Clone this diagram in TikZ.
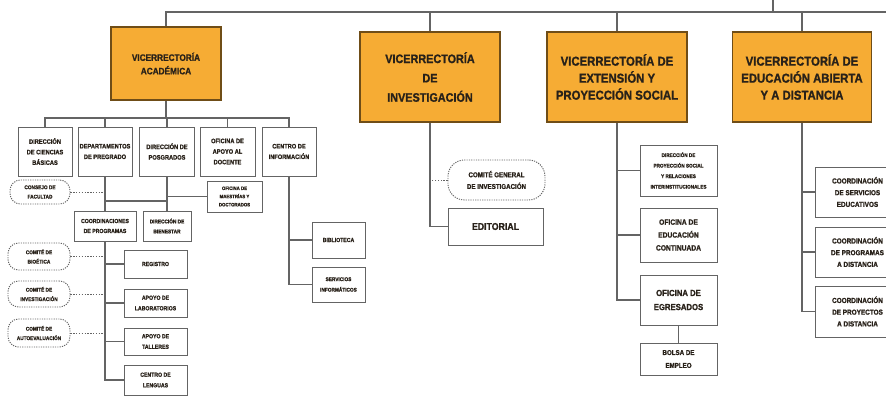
\documentclass[tikz,border=0pt]{standalone}
\usepackage{fontspec}
\setmainfont{Liberation Sans}[FakeStretch=0.88, BoldFeatures={FakeBold=1.2}]
\usepackage{tikz}
\usepackage{xcolor}
\usetikzlibrary{positioning}

\definecolor{naranja}{RGB}{246,172,52}
\definecolor{borde}{RGB}{100,100,100}
\definecolor{texto}{RGB}{40,33,25}
\tikzset{
  tam/.style 2 args={minimum width=#1*0.03cm, minimum height=#2*0.03cm},
  vice/.style={draw=naranja!45!black, line width=0.9pt, fill=naranja, text=texto,
    font=\bfseries\fontsize{11}{14.5}\selectfont, align=center, inner sep=0pt},
  unidad/.style={draw=borde, line width=0.8pt, fill=white, text=texto,
    font=\bfseries\fontsize{5.5}{9}\selectfont, align=center, inner sep=0pt},
  comite/.style={unidad, dash pattern=on 1pt off 1pt, rounded corners=9pt,
    font=\bfseries\fontsize{4.6}{8}\selectfont},
  linea/.style={draw=borde, line width=1pt},
  punteada/.style={draw=borde, line width=0.6pt, dash pattern=on 1.2pt off 1.2pt},
}

\begin{document}
\begin{tikzpicture}[x=0.03cm,y=-0.03cm]
\useasboundingbox (0,0) rectangle (886,398);
\clip (0,0) rectangle (886,398);

% vicerrectorias
\node[vice, tam={110}{73}, font=\bfseries\fontsize{8}{11.5}\selectfont] (va) at (166,63.5) {VICERRECTORÍA\\ACADÉMICA};
\node[vice, tam={140}{90}, font=\bfseries\fontsize{10.5}{16.5}\selectfont] (vi) at (430,77) {VICERRECTORÍA\\DE\\INVESTIGACIÓN};
\node[vice, tam={140}{90}] (ve) at (617,77) {VICERRECTORÍA DE\\EXTENSIÓN Y\\PROYECCIÓN SOCIAL};
\node[vice, tam={139}{90}] (vd) at (802,77) {VICERRECTORÍA DE\\EDUCACIÓN ABIERTA\\Y A DISTANCIA};
\coordinate (rector) at (773,0);
\coordinate (barra) at (773,12);
\coordinate (fin) at (886,12);
\draw[linea] (rector) -- (barra);
\draw[linea] (va.north) -- (va.north |- barra) -- (fin);
\foreach \v in {vi,ve,vd} \draw[linea] (\v.north) -- (\v.north |- barra);

% academica
\node[unidad, tam={54}{49}] (dcb) at (45,151.5) {DIRECCIÓN\\DE CIENCIAS\\BÁSICAS};
\node[unidad, tam={54}{49}] (dpre) at (105,151.5) {DEPARTAMENTOS\\DE PREGRADO};
\node[unidad, tam={55}{49}] (dpos) at (167,151.5) {DIRECCIÓN DE\\POSGRADOS};
\node[unidad, tam={55}{49}] (oad) at (227.5,151.5) {OFICINA DE\\APOYO AL\\DOCENTE};
\node[unidad, tam={54}{49}] (cinf) at (289,151.5) {CENTRO DE\\INFORMACIÓN};
\coordinate (ramaA) at (166,118);
\draw[linea] (va.south) -- (ramaA);
\draw[linea] (dcb.north) -- (dcb.north |- ramaA) -- (cinf.north |- ramaA) -- (cinf.north);
\foreach \u in {dpre,dpos,oad} \draw[linea] (\u.north) -- (\u.north |- ramaA);

\node[comite, tam={60}{24}] (cfac) at (40,192) {CONSEJO DE\\FACULTAD};
\draw[punteada] (cfac.east) -- (cfac.east -| dpre.south);

\node[unidad, tam={62}{30}, font=\bfseries\fontsize{5}{8.5}\selectfont] (cprog) at (105,226) {COORDINACIONES\\DE PROGRAMAS};
\node[unidad, tam={48}{30}, font=\bfseries\fontsize{4.6}{8.5}\selectfont] (dbien) at (167,226) {DIRECCIÓN DE\\BIENESTAR};
\node[unidad, tam={55}{31}, font=\bfseries\fontsize{4.2}{7}\selectfont] (omd) at (234.5,196.5) {OFICINA DE\\MAESTRÍAS Y\\DOCTORADOS};
\coordinate (ramaB) at (105,201);
\draw[linea] (dpre.south) -- (cprog.north);
\draw[linea] (dpos.south) -- (dbien.north);
\draw[linea] (ramaB) -- (ramaB -| dpos.south);
\draw[linea] (omd.west) -- (omd.west -| dpos.south);

\node[unidad, tam={63}{28}, font=\bfseries\fontsize{5}{9}\selectfont] (reg) at (155.5,264) {REGISTRO};
\node[unidad, tam={63}{28}, font=\bfseries\fontsize{5}{9}\selectfont] (alab) at (155.5,303) {APOYO DE\\LABORATORIOS};
\node[unidad, tam={63}{27}, font=\bfseries\fontsize{5}{9}\selectfont] (atal) at (155.5,341.5) {APOYO DE\\TALLERES};
\node[unidad, tam={63}{30}, font=\bfseries\fontsize{5}{9}\selectfont] (clen) at (155.5,380) {CENTRO DE\\LENGUAS};
\draw[linea] (cprog.south) -- (cprog.south |- clen.west) -- (clen.west);
\foreach \u in {reg,alab,atal} \draw[linea] (\u.west) -- (\u.west -| cprog.south);

\node[comite, tam={62}{27}] (cbio) at (39,256.5) {COMITÉ DE\\BIOÉTICA};
\node[comite, tam={62}{26}] (cinv) at (39,294) {COMITÉ DE\\INVESTIGACIÓN};
\node[comite, tam={62}{28}] (caut) at (39,333) {COMITÉ DE\\AUTOEVALUACIÓN};
\foreach \c in {cbio,cinv,caut} \draw[punteada] (\c.east) -- (\c.east -| cprog.south);

\node[unidad, tam={53}{36}, font=\bfseries\fontsize{5}{9}\selectfont] (bib) at (338.5,240) {BIBLIOTECA};
\node[unidad, tam={53}{35}, font=\bfseries\fontsize{4.6}{9}\selectfont] (sinf) at (338.5,284.5) {SERVICIOS\\INFORMÁTICOS};
\draw[linea] (cinf.south) -- (cinf.south |- sinf.west) -- (sinf.west);
\draw[linea] (bib.west) -- (bib.west -| cinf.south);

% investigacion
\node[comite, tam={97}{40}, rounded corners=14pt, font=\bfseries\fontsize{6}{10}\selectfont] (cgi) at (496.5,180) {COMITÉ GENERAL\\DE INVESTIGACIÓN};
\node[unidad, tam={95}{37}, font=\bfseries\fontsize{8.5}{10}\selectfont] (edit) at (495.5,226.5) {EDITORIAL};
\draw[linea] (vi.south) -- (vi.south |- edit.west) -- (edit.west);
\draw[punteada] (cgi.west) -- (cgi.west -| vi.south);

% extension
\node[unidad, tam={77}{51}, font=\bfseries\fontsize{4.5}{9}\selectfont] (dps) at (678.5,170.5) {DIRECCIÓN DE\\PROYECCIÓN SOCIAL\\Y RELACIONES\\INTERINSTITUCIONALES};
\node[unidad, tam={77}{54}, font=\bfseries\fontsize{6.5}{11}\selectfont] (oec) at (678.5,235) {OFICINA DE\\EDUCACIÓN\\CONTINUADA};
\node[unidad, tam={77}{50}, font=\bfseries\fontsize{7.5}{12}\selectfont] (oeg) at (678.5,300) {OFICINA DE\\EGRESADOS};
\node[unidad, tam={77}{32}, font=\bfseries\fontsize{6}{11}\selectfont] (bemp) at (678.5,359) {BOLSA DE\\EMPLEO};
\draw[linea] (ve.south) -- (ve.south |- oeg.west) -- (oeg.west);
\foreach \u in {dps,oec} \draw[linea] (\u.west) -- (\u.west -| ve.south);
\draw[linea] (oeg.south) -- (bemp.north);

% educacion abierta y a distancia
\node[unidad, tam={85}{50}, font=\bfseries\fontsize{6.2}{10}\selectfont] (cse) at (857.5,192) {COORDINACIÓN\\DE SERVICIOS\\EDUCATIVOS};
\node[unidad, tam={85}{50}, font=\bfseries\fontsize{6.2}{10}\selectfont] (cpd) at (857.5,252) {COORDINACIÓN\\DE PROGRAMAS\\A DISTANCIA};
\node[unidad, tam={85}{51}, font=\bfseries\fontsize{6.2}{10}\selectfont] (cpy) at (857.5,311.5) {COORDINACIÓN\\DE PROYECTOS\\A DISTANCIA};
\draw[linea] (vd.south) -- (vd.south |- cpy.west) -- (cpy.west);
\foreach \u in {cse,cpd} \draw[linea] (\u.west) -- (\u.west -| vd.south);
\end{tikzpicture}
\end{document}
